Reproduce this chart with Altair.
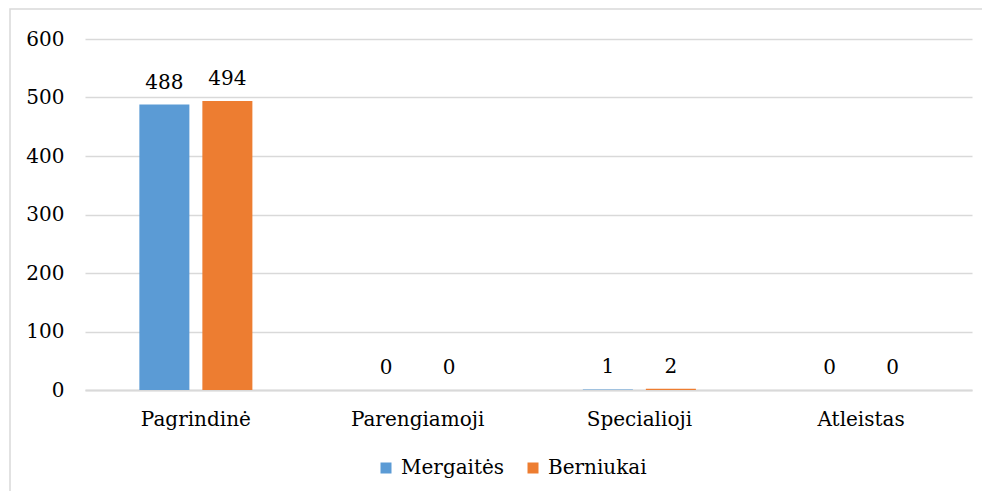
import altair as alt
import pandas as pd

categories = ["Pagrindinė", "Parengiamoji", "Specialioji", "Atleistas"]
series = ["Mergaitės", "Berniukai"]
mergaites = [488, 0, 1, 0]
berniukai = [494, 0, 2, 0]
colors = ["#5B9BD5", "#ED7D31"]
y_ticks = [0, 100, 200, 300, 400, 500, 600]

rows = []
for i, c in enumerate(categories):
    rows.append({"cat": c, "series": series[0], "value": mergaites[i]})
    rows.append({"cat": c, "series": series[1], "value": berniukai[i]})
df = pd.DataFrame(rows)

FONT = "DejaVu Serif"
FS = 20

x = alt.X("cat:N", sort=categories, title=None,
          scale=alt.Scale(paddingInner=0, paddingOuter=0),
          axis=alt.Axis(labelAngle=0, labelFont=FONT, labelFontSize=FS, labelColor="#000000",
                        labelPadding=19, ticks=False, domainColor="#d9d9d9", domainWidth=2,
                        grid=False))
xo = alt.XOffset("series:N", sort=series,
                 scale=alt.Scale(paddingInner=0.206, paddingOuter=0.863))
y = alt.Y("value:Q", title=None,
          scale=alt.Scale(domain=[0, 600], nice=False),
          axis=alt.Axis(values=y_ticks, labelFont=FONT, labelFontSize=FS, labelColor="#000000",
                        labelPadding=21, ticks=False, domain=False, gridColor="#d9d9d9",
                        gridWidth=1.5))
color = alt.Color("series:N", sort=series, title=None,
                  scale=alt.Scale(domain=series, range=colors),
                  legend=alt.Legend(orient="none", legendX=291, legendY=419, direction="horizontal",
                                    symbolType="square", symbolSize=121, symbolStrokeWidth=0,
                                    labelFont=FONT, labelFontSize=FS, labelColor="#000000",
                                    columnPadding=18, labelOffset=5, labelLimit=300))

base = alt.Chart(df)
bars = base.mark_bar().encode(x=x, xOffset=xo, y=y, color=color)
labels = base.mark_text(baseline="alphabetic", dy=-16, font=FONT, fontSize=FS, color="#000000").encode(
    x=x, xOffset=xo, y=y, text="value:Q")

frame = alt.Chart(pd.DataFrame({"a": [0]})).mark_rect(
    fill=None, stroke="#d9d9d9", strokeWidth=1.5).encode(
    x=alt.value(-75), x2=alt.value(1000), y=alt.value(-30), y2=alt.value(500))

chart = alt.layer(frame, bars, labels).properties(
    width=887, height=351,
    autosize=alt.AutoSizeParams(type="none"),
    padding={"left": 77, "top": 31, "right": 10, "bottom": 101},
).configure(font=FONT).configure_view(stroke=None)

chart.save("out.html", embed_options={"renderer": "svg", "actions": False})
